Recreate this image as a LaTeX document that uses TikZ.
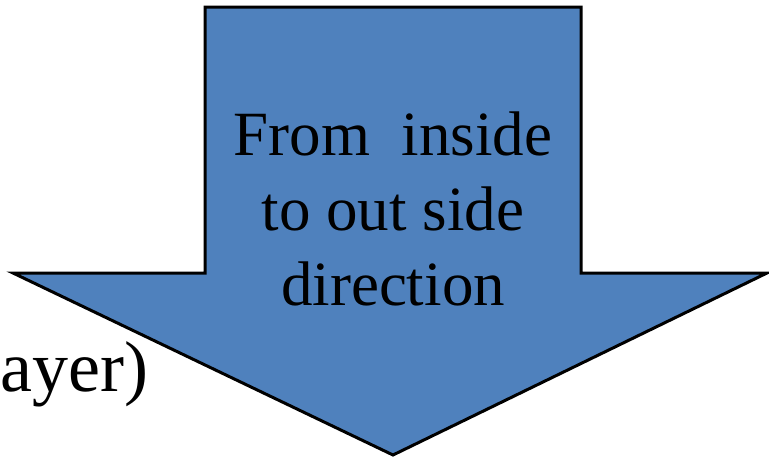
\documentclass[tikz,border=0pt]{standalone}
\usepackage{fontspec}
\setmainfont{Liberation Serif}
\definecolor{arrowblue}{HTML}{4F81BD}
\begin{document}
\begin{tikzpicture}[x=1pt, y=-1pt,
    bigarrow/.style={fill=arrowblue, draw=black, line width=3pt, line join=miter},
    label/.style={inner sep=0pt, font=\fontsize{63}{75}\selectfont}]
  % page is 769 x 458, y grows downwards
  \useasboundingbox (0,0) rectangle (769,458);
  \begin{scope}
    \clip (0,0) rectangle (769,458);
    \draw[bigarrow] (205,7) -- (581,7) -- (581,273) -- (767,273) -- (393,455)
      -- (13,273) -- (205,273) -- cycle;
    \node[label, align=center] (dir) at (393,209) {From~ inside\\to out side\\direction};
    \node[label, anchor=base east, font=\fontsize{72}{84}\selectfont] (layer) at (149,391) {ayer)};
  \end{scope}
\end{tikzpicture}
\end{document}
